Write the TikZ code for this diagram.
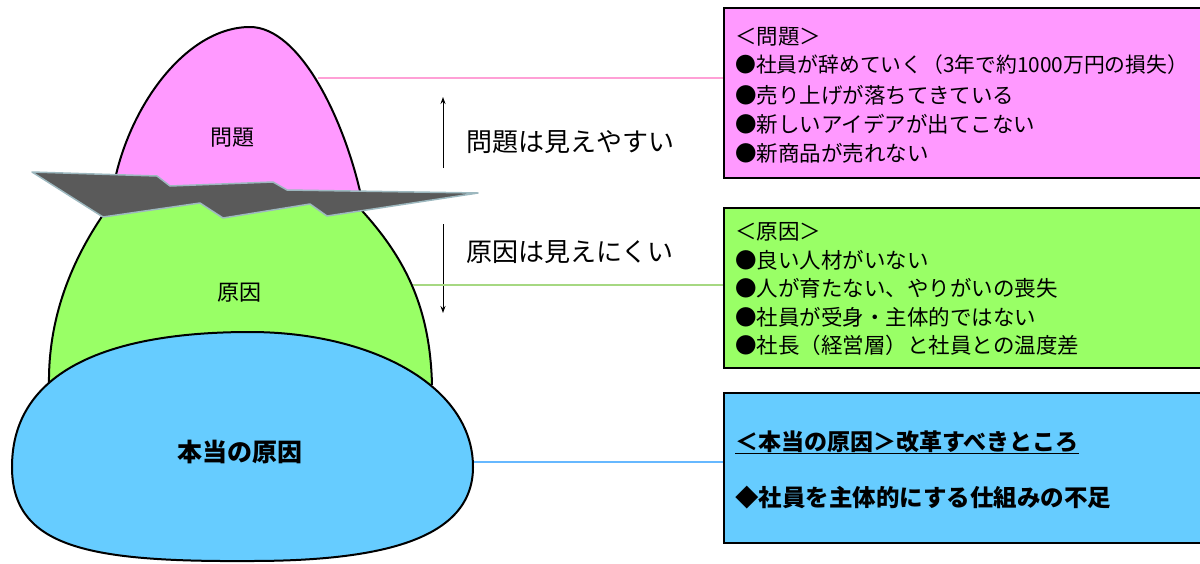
\documentclass[tikz,border=0pt]{standalone}
\usepackage{fontspec}
\setmainfont{Noto Sans CJK JP}
\usetikzlibrary{arrows.meta}
\definecolor{pinkfill}{HTML}{FF99FF}
\definecolor{greenfill}{HTML}{99FF66}
\definecolor{bluefill}{HTML}{66CCFF}
\definecolor{platefill}{HTML}{5A5A5A}
\definecolor{plateedge}{HTML}{9DB8BF}
\definecolor{pinkline}{HTML}{FFA0D6}
\definecolor{greenline}{HTML}{A6D882}
\definecolor{blueline}{HTML}{66B8FF}
\tikzset{
  outline/.style={draw=black, line width=2pt},
  infobox/.style={draw=black, line width=2.4pt, anchor=north west, minimum width=500pt, inner sep=0pt},
  boxtext/.style={anchor=west, inner sep=0pt, font=\fontsize{21.5}{22}\selectfont},
  bluetext/.style={anchor=west, inner sep=0pt, font=\fontsize{23}{24}\selectfont\bfseries},
  sidetext/.style={anchor=west, inner sep=0pt, font=\fontsize{26}{27}\selectfont},
  shapelabel/.style={inner sep=0pt, font=\fontsize{22}{23}\selectfont},
  arr/.style={line width=1pt, -{Stealth[length=7pt,width=5pt]}},
  linkline/.style={line width=2pt}
}
\begin{document}
\begin{tikzpicture}[x=1pt,y=-1pt]
\useasboundingbox (0,0) rectangle (1200,563);
% green mountain body
\fill[greenfill] (110,205) .. controls (70,260) and (48,320) .. (49,385) -- (432,385) .. controls (430,300) and (400,250) .. (352,200) -- cycle;
\draw[outline] (110,205) .. controls (70,260) and (48,320) .. (49,385);
\draw[outline] (432,385) .. controls (430,300) and (400,250) .. (352,200);
% pink peak
\fill[pinkfill] (112,195) .. controls (125,110) and (185,27) .. (250,27) .. controls (300,27) and (345,120) .. (362,200) -- cycle;
\draw[outline] (112,195) .. controls (125,110) and (185,27) .. (250,27) .. controls (300,27) and (345,120) .. (362,200);
% plate (water surface)
\filldraw[fill=platefill, draw=plateedge, line width=1.5pt, line join=round]
  (32,172) -- (157,176) -- (170,186) -- (273,182) -- (287,190) -- (478,193)
  -- (327,216) -- (310,204) -- (223,218) -- (200,203) -- (103,217) -- cycle;
% blue base
\filldraw[fill=bluefill, outline] (12,467) .. controls (12,370) and (110,332) .. (250,332)
  .. controls (370,332) and (473,385) .. (473,467)
  .. controls (473,540) and (380,561) .. (250,561)
  .. controls (90,562) and (12,548) .. (12,467) -- cycle;
% shape labels
\node[shapelabel] (lprob) at (232,138) {問題};
\node[shapelabel] (lcause) at (239,293) {原因};
\node[shapelabel, font=\fontsize{25}{26}\selectfont\bfseries] (lroot) at (240,452) {本当の原因};
% boxes
\node[infobox, fill=pinkfill, minimum height=170pt] (pbox) at (723,7) {};
\node[infobox, fill=greenfill, minimum height=160pt] (gbox) at (723,207) {};
\node[infobox, fill=bluefill, minimum height=150pt] (bbox) at (723,392) {};
% pink box text
\node[boxtext] (p0) at (735,37) {＜問題＞};
\node[boxtext, font=\fontsize{20.8}{22}\selectfont] (p1) at (735,65) {●社員が辞めていく（3年で約1000万円の損失）};
\node[boxtext] (p2) at (735,95) {●売り上げが落ちてきている};
\node[boxtext] (p3) at (735,124) {●新しいアイデアが出てこない};
\node[boxtext] (p4) at (735,153) {●新商品が売れない};
% green box text
\node[boxtext] (g0) at (735,232) {＜原因＞};
\node[boxtext] (g1) at (735,260) {●良い人材がいない};
\node[boxtext] (g2) at (735,288) {●人が育たない、やりがいの喪失};
\node[boxtext] (g3) at (735,317) {●社員が受身・主体的ではない};
\node[boxtext] (g4) at (735,345) {●社長（経営層）と社員との温度差};
% blue box text
\node[bluetext] (b0) at (735,442) {＜本当の原因＞改革すべきところ};
\draw[line width=1.3pt] ([yshift=-3pt]b0.base west) -- ([yshift=-3pt]b0.base east);
\node[bluetext, font=\fontsize{23.5}{24}\selectfont\bfseries] (b1) at (735,498) {◆社員を主体的にする仕組みの不足};
% side texts and arrows
\node[sidetext] (s1) at (466,142) {問題は見えやすい};
\node[sidetext] (s2) at (466,252) {原因は見えにくい};
\coordinate (a1s) at (443,168);
\coordinate (a1e) at (443,97);
\coordinate (a2s) at (443,224);
\coordinate (a2e) at (443,313);
\draw[arr] (a1s) -- (a1e);
\draw[arr] (a2s) -- (a2e);
% connectors
\coordinate (pl) at (318,78);
\coordinate (gl) at (413,285);
\coordinate (bl) at (474,462);
\draw[linkline, draw=pinkline] (pl) -- (pl -| pbox.west);
\draw[linkline, draw=greenline] (gl) -- (gl -| gbox.west);
\draw[linkline, draw=blueline] (bl) -- (bl -| bbox.west);
\end{tikzpicture}
\end{document}
